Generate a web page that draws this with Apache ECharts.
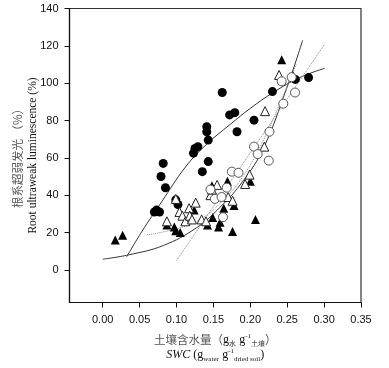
<!DOCTYPE html>
<html>
<head>
<meta charset="utf-8">
<title>root luminescence</title>
<script src="https://cdn.jsdelivr.net/npm/echarts@6/dist/echarts.min.js"></script>
<style>
html,body{margin:0;padding:0;background:#fff;}
#main{width:389px;height:368px;}
</style>
</head>
<body>
<div id="main"></div>
<script>
//刻度
var xTicks = [0, 0.05, 0.10, 0.15, 0.20, 0.25, 0.30, 0.35];
var yTicks = [0, 20, 40, 60, 80, 100, 120, 140];

//实心圆
var filledCircle = [
	[0.070, 31], [0.073, 32], [0.077, 31], [0.079, 50], [0.082, 57], [0.085, 44],
	[0.099, 37.5], [0.102, 35], [0.123, 62.5], [0.125, 65], [0.129, 66], [0.135, 52.6],
	[0.141, 76.7], [0.141, 74], [0.143, 69.5], [0.143, 58], [0.162, 95], [0.172, 83],
	[0.179, 84.2], [0.182, 74], [0.205, 80.2], [0.230, 95.5], [0.261, 102], [0.279, 103]
];
//实心三角
var filledTriangle = [
	[0.017, 16], [0.027, 18.5], [0.087, 24], [0.097, 23], [0.099, 21], [0.105, 20],
	[0.124, 32], [0.142, 24], [0.149, 28], [0.148, 45], [0.157, 23], [0.159, 25.5],
	[0.164, 33], [0.169, 47.5], [0.176, 20.5], [0.178, 34.5], [0.200, 47.5], [0.207, 27],
	[0.2425, 112.5], [0.258, 104]
];
//空心三角
var openTriangle = [
	[0.087, 26], [0.099, 38], [0.104, 31], [0.108, 29], [0.112, 26], [0.117, 33],
	[0.118, 29], [0.121, 27], [0.126, 36], [0.134, 27], [0.140, 26], [0.146, 40],
	[0.148, 43], [0.155, 45.5], [0.170, 39], [0.176, 37], [0.193, 46], [0.199, 51],
	[0.219, 66], [0.220, 85], [0.239, 104.4]
];
//空心圆
var openCircle = [
	[0.146, 43], [0.152, 38], [0.161, 39], [0.163, 28.2], [0.168, 44], [0.175, 52.6],
	[0.184, 52], [0.205, 66], [0.210, 62], [0.225, 58.5], [0.226, 74], [0.2447, 89],
	[0.2425, 101], [0.256, 103.2], [0.2606, 95]
];

//拟合线
var fitFilledCircle = [
	[0.0325, 7], [0.053, 20.5], [0.080, 36.5], [0.112, 55], [0.140, 67], [0.173, 78],
	[0.200, 86.5], [0.231, 95], [0.267, 103], [0.301, 108]
];
var fitFilledTriangle = [
	[0, 5.7], [0.035, 8], [0.082, 13], [0.127, 22.5], [0.159, 33.5], [0.190, 47.5],
	[0.2176, 65], [0.249, 97], [0.271, 123]
];
var fitOpenCircle = [[0.100, 5], [0.301, 121]];
var fitOpenTriangle = [
	[0.060, 18.7], [0.100, 22], [0.132, 27], [0.160, 36], [0.190, 50], [0.222, 73],
	[0.262, 110]
];

var myChart = echarts.init(document.getElementById('main'), null, {renderer: 'canvas'});

var lineSolid = {color: '#333', width: 1, type: 'solid'};
var lineDot = {color: '#888', width: 1, type: 'dotted'};

function fitLine(data, style)
{
	return {
		type: 'line',
		data: data,
		smooth: 0.4,
		showSymbol: false,
		symbol: 'none',
		silent: true,
		lineStyle: style,
		z: 1
	};
}

var option = {
	animation: false,
	backgroundColor: '#fff',
	grid: {
		left: 69.5,
		right: 28,
		top: 8.5,
		bottom: 65.5,
		show: true,
		borderColor: '#333',
		borderWidth: 1.2
	},
	xAxis: {
		type: 'value',
		min: -0.045,
		max: 0.35,
		name: '{cn|土壤含水量（}{g|g}{sub|水} {g|g}{sup|-1}{sub|土壤}{cn|）}\n{it|SWC}{g| (g}{sub|water} {g|g}{sup|-1}{sub|dried soil}{g|)}',
		nameLocation: 'middle',
		nameGap: 30,
		nameMoveOverlap: false,
		nameTextStyle: {
			lineHeight: 15,
			rich: {
				cn: {fontFamily: 'Noto Sans CJK SC', fontSize: 11.5, color: '#555', lineHeight: 15},
				g: {fontFamily: 'Liberation Serif', fontSize: 12, color: '#111', lineHeight: 15},
				it: {fontFamily: 'Liberation Serif', fontStyle: 'italic', fontSize: 12, color: '#111', lineHeight: 15},
				sub: {fontFamily: 'Liberation Serif', fontSize: 7, color: '#111', verticalAlign: 'bottom', lineHeight: 15},
				sup: {fontFamily: 'Liberation Serif', fontSize: 7, color: '#111', verticalAlign: 'top', lineHeight: 15}
			}
		},
		axisLine: {show: true, onZero: false, lineStyle: {color: '#111', width: 1.2}},
		axisTick: {show: true, length: 5, customValues: xTicks, lineStyle: {color: '#111'}},
		axisLabel: {
			customValues: xTicks,
			margin: 12,
			fontFamily: 'Liberation Sans',
			fontSize: 11,
			color: '#111',
			formatter: function (v) { return v.toFixed(2); }
		},
		splitLine: {show: false}
	},
	yAxis: {
		type: 'value',
		min: -17.5,
		max: 140,
		name: '{cn|根系超弱发光 （%）}\n{en|Root ultraweak luminescence (%)}',
		nameLocation: 'middle',
		nameRotate: 90,
		nameGap: 29,
		nameMoveOverlap: false,
		nameTextStyle: {
			rich: {
				cn: {fontFamily: 'Noto Sans CJK SC', fontSize: 11.5, color: '#555', lineHeight: 15},
				en: {fontFamily: 'Liberation Serif', fontSize: 11.5, color: '#111', lineHeight: 15}
			}
		},
		axisLine: {show: true, onZero: false, lineStyle: {color: '#111', width: 1.2}},
		axisTick: {show: true, length: 5, customValues: yTicks, lineStyle: {color: '#111'}},
		axisLabel: {
			customValues: yTicks,
			margin: 11,
			fontFamily: 'Liberation Sans',
			fontSize: 11,
			color: '#111'
		},
		splitLine: {show: false}
	},
	series: [
		fitLine(fitFilledCircle, lineSolid),
		fitLine(fitFilledTriangle, lineSolid),
		fitLine(fitOpenCircle, lineDot),
		fitLine(fitOpenTriangle, lineDot),
		{
			type: 'scatter',
			data: filledCircle,
			symbol: 'circle',
			symbolSize: 9,
			itemStyle: {color: '#000', opacity: 1},
			z: 2
		},
		{
			type: 'scatter',
			data: filledTriangle,
			symbol: 'triangle',
			symbolSize: 9,
			itemStyle: {color: '#000', opacity: 1},
			z: 2
		},
		{
			type: 'scatter',
			data: openTriangle,
			symbol: 'triangle',
			symbolSize: 9,
			itemStyle: {color: '#fff', borderColor: '#222', borderWidth: 1, opacity: 1},
			z: 3
		},
		{
			type: 'scatter',
			data: openCircle,
			symbol: 'circle',
			symbolSize: 9,
			itemStyle: {color: '#fff', borderColor: '#555', borderWidth: 1, opacity: 1},
			z: 3
		}
	]
};

myChart.setOption(option);
</script>
</body>
</html>
